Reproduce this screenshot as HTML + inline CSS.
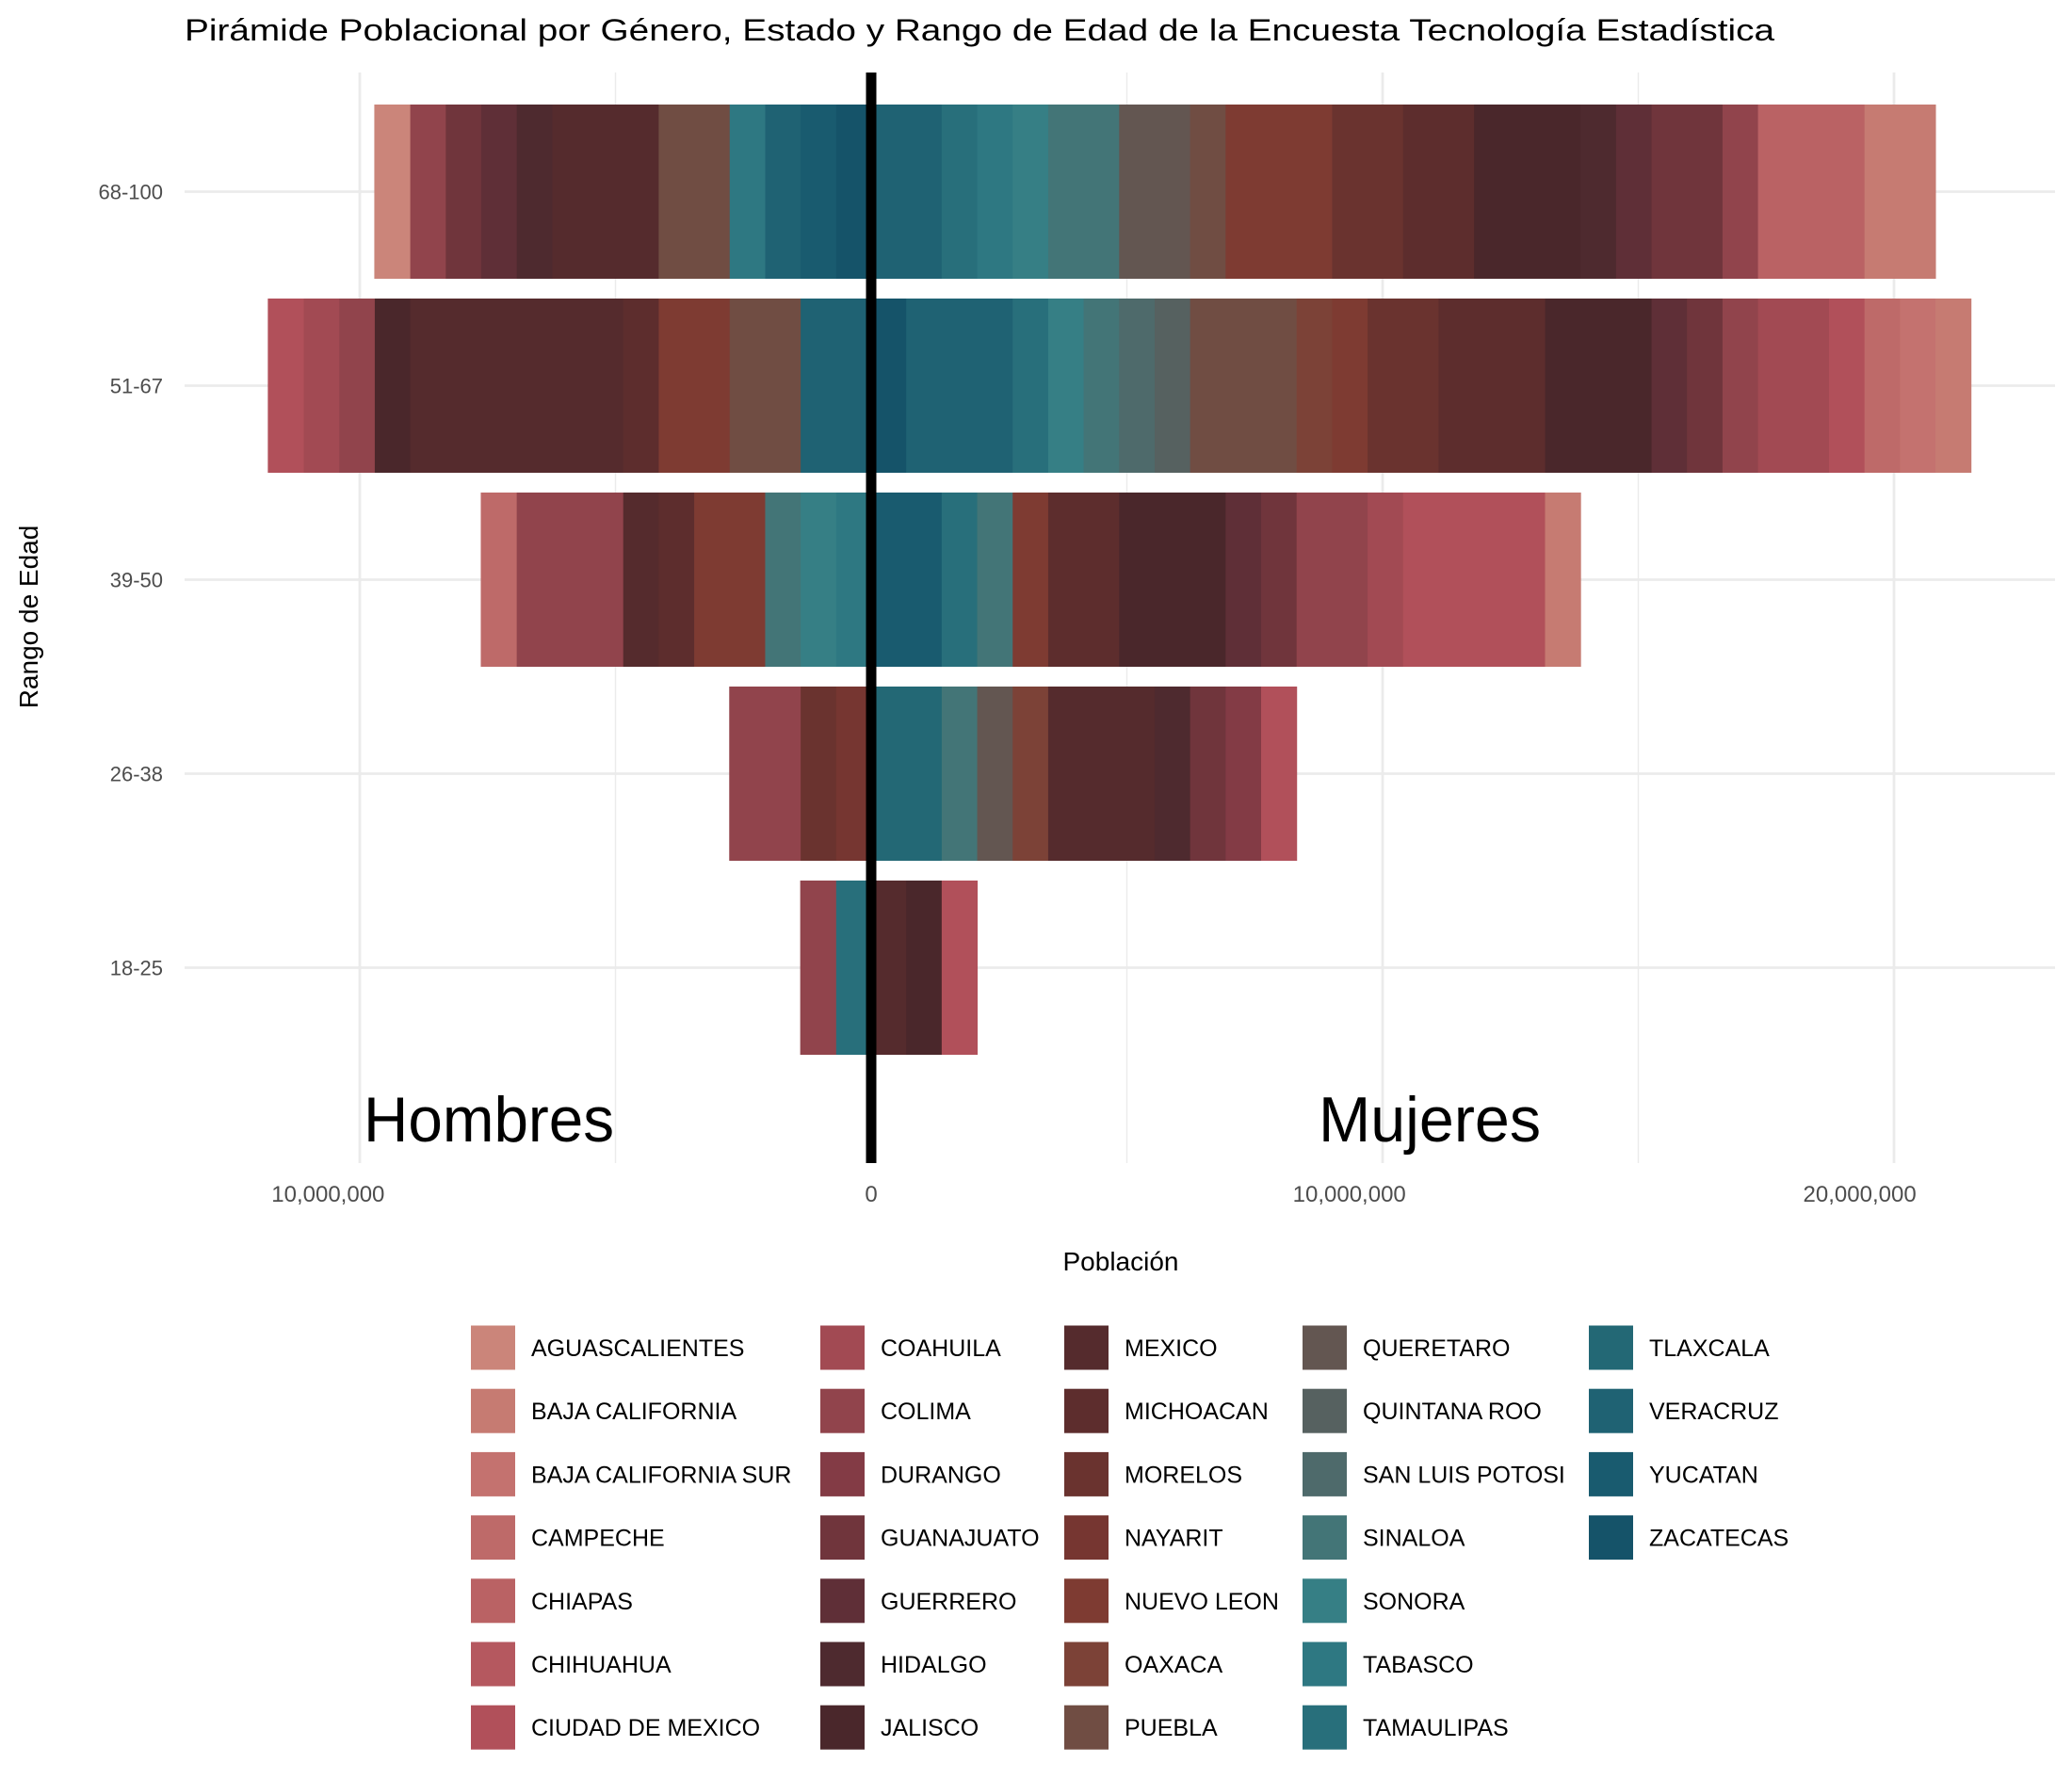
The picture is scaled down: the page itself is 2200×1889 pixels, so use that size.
<!DOCTYPE html>
<html><head><meta charset="utf-8"><style>
html,body{margin:0;padding:0;background:#fff;}
svg{display:block;font-family:"Liberation Sans",Arial,sans-serif;}
</style></head><body>
<svg id="chart" width="2200" height="1889" viewBox="0 0 2200 1889" xmlns="http://www.w3.org/2000/svg">
<rect x="0" y="0" width="2200" height="1889" fill="#fff"/>
<g id="grid"></g>
<g id="bars"></g>
<line x1="925" y1="77" x2="925" y2="1235" stroke="#000" stroke-width="11"/>
<g id="axes"></g>
<text x="196" y="43" font-size="32" fill="#000" textLength="1688" lengthAdjust="spacingAndGlyphs">Pirámide Poblacional por Género, Estado y Rango de Edad de la Encuesta Tecnología Estadística</text>
<text x="386" y="1212" font-size="68" fill="#000" textLength="266" lengthAdjust="spacingAndGlyphs">Hombres</text>
<text x="1400" y="1212" font-size="68" fill="#000" textLength="236" lengthAdjust="spacingAndGlyphs">Mujeres</text>
<text x="1190" y="1349" font-size="28" fill="#000" text-anchor="middle">Población</text>
<text transform="translate(40,655) rotate(-90)" font-size="28" fill="#000" text-anchor="middle">Rango de Edad</text>
<g id="legend"></g>
</svg>
<script>
const states = ["AGUASCALIENTES","BAJA CALIFORNIA","BAJA CALIFORNIA SUR","CAMPECHE","CHIAPAS","CHIHUAHUA","CIUDAD DE MEXICO","COAHUILA","COLIMA","DURANGO","GUANAJUATO","GUERRERO","HIDALGO","JALISCO","MEXICO","MICHOACAN","MORELOS","NAYARIT","NUEVO LEON","OAXACA","PUEBLA","QUERETARO","QUINTANA ROO","SAN LUIS POTOSI","SINALOA","SONORA","TABASCO","TAMAULIPAS","TLAXCALA","VERACRUZ","YUCATAN","ZACATECAS"];
const stateColors = ["#cb857a","#c67b72","#c4726f","#be6a69","#ba6264","#b5585f","#b1505a","#a24a53","#91444c","#833b45","#70353c","#5f2f37","#4e2a2f","#4a272b","#552b2d","#5d2d2d","#6a332f","#763631","#7e3b32","#7c4237","#704d43","#635651","#566160","#4e6a6b","#437577","#367f85","#2e7882","#286f7b","#236875","#1f6273","#195b6f","#155369"];
const ageGroups = ["18-25","26-38","39-50","51-67","68-100"];
const majorGrid = [-10000000, 0, 10000000, 20000000];
const minorGrid = [-5000000, 5000000, 15000000];
const xTicks = [-10620000, 0, 9350000, 19330000];
const xTickLabels = ["10,000,000","0","10,000,000","20,000,000"];
// values in thousands of people, index = state
const men18 = [0,0,0,0,0,0,0,0,694,0,0,0,0,0,0,0,0,0,0,0,0,0,0,0,0,0,0,694,0,0,0,0];
const men26 = [0,0,0,0,0,0,0,0,1388,0,0,0,0,0,0,0,694,694,0,0,0,0,0,0,0,0,0,0,0,0,0,0];
const men39 = [0,0,0,694,0,0,0,0,2082,0,0,0,0,0,694,694,0,0,1388,0,0,0,0,0,694,694,694,0,0,0,0,0];
const men51 = [0,0,0,0,0,0,694,694,694,0,0,0,0,694,4164,694,0,0,1388,0,1388,0,0,0,0,0,0,0,0,1388,0,0];
const men68 = [694,0,0,0,0,0,0,0,694,0,694,694,694,0,2082,0,0,0,0,0,1388,0,0,0,0,0,694,0,0,694,694,694];
const women18 = [0,0,0,0,0,0,694,0,0,0,0,0,0,694,694,0,0,0,0,0,0,0,0,0,0,0,0,0,0,0,0,0];
const women26 = [0,0,0,0,0,0,694,0,0,694,694,0,694,0,2082,0,0,0,0,694,0,694,0,0,694,0,0,0,1388,0,0,0];
const women39 = [0,694,0,0,0,0,2776,694,1388,0,694,694,0,2082,0,1388,0,0,694,0,0,0,0,0,694,0,0,694,0,0,1388,0];
const women51 = [0,694,694,694,0,0,694,1388,694,0,694,694,0,2082,0,2082,1388,0,694,694,2082,0,694,694,694,694,0,694,0,2082,0,694];
const women68 = [0,1388,0,0,2082,0,0,0,694,0,1388,694,694,2082,0,1388,1388,0,2082,0,694,1388,0,0,1388,694,694,694,0,1388,0,0];
const menByAge = [men18, men26, men39, men51, men68];
const womenByAge = [women18, women26, women39, women51, women68];

const NS = "http://www.w3.org/2000/svg";
const X0 = 925, PX_PER = 543 / 10000000;
const PANEL_L = 196, PANEL_R = 2182, PANEL_T = 77, PANEL_B = 1235;
function xScale(v) { return X0 + v * PX_PER; }
function yScale(i) { return 1027.5 - i * 206; }
const BAR_H = 185;
function mk(tag, attrs, parent) {
  const el = document.createElementNS(NS, tag);
  for (const k in attrs) el.setAttribute(k, attrs[k]);
  parent.appendChild(el);
  return el;
}
const grid = document.getElementById('grid');
minorGrid.forEach(v => {
  const ln = mk('line', {x1: xScale(v), x2: xScale(v), y1: PANEL_T, y2: PANEL_B, stroke: '#ebebeb', 'stroke-width': 1.4}, grid);
  
  
});
majorGrid.forEach(v => {
  const ln = mk('line', {x1: xScale(v), x2: xScale(v), y1: PANEL_T, y2: PANEL_B, stroke: '#ebebeb', 'stroke-width': 2.8}, grid);
  
  
});
ageGroups.forEach((g, i) => {
  const ln = mk('line', {x1: PANEL_L, x2: PANEL_R, y1: yScale(i), y2: yScale(i), stroke: '#ebebeb', 'stroke-width': 2.8}, grid);
  
  
});
const bars = document.getElementById('bars');
ageGroups.forEach((g, i) => {
  const yc = yScale(i);
  let cumM = 0, cumW = 0;
  for (let s = states.length - 1; s >= 0; s--) {
    const m = menByAge[i][s] * 1000;
    if (m > 0) {
      const x1 = xScale(-(cumM + m)), x2 = xScale(-cumM);
      const r = mk('rect', {x: x1, y: yc - BAR_H / 2, width: x2 - x1 + 0.5, height: BAR_H, fill: stateColors[s]}, bars);
      
      
      cumM += m;
    }
    const w = womenByAge[i][s] * 1000;
    if (w > 0) {
      const x1 = xScale(cumW), x2 = xScale(cumW + w);
      const r = mk('rect', {x: x1 - 0.5, y: yc - BAR_H / 2, width: x2 - x1 + 0.5, height: BAR_H, fill: stateColors[s]}, bars);
      
      
      cumW += w;
    }
  }
});
const axes = document.getElementById('axes');
xTicks.forEach((v, i) => {
  const t = mk('text', {x: xScale(v), y: 1276, 'font-size': 24, fill: '#4d4d4d', 'text-anchor': 'middle'}, axes);
  t.textContent = xTickLabels[i];
  
  
});
ageGroups.forEach((g, i) => {
  const t = mk('text', {x: 173, y: yScale(i) + 8, 'font-size': 22, fill: '#4d4d4d', 'text-anchor': 'end'}, axes);
  t.textContent = g;
  
  
});
const legend = document.getElementById('legend');
const colKeyX = [500, 871, 1130, 1383, 1687];
states.forEach((s, k) => {
  const col = Math.floor(k / 7), row = k % 7;
  const yc = 1431 + row * 67.2;
  const r = mk('rect', {x: colKeyX[col], y: yc - 23.5, width: 47, height: 47, fill: stateColors[k]}, legend);
  
  
  const t = mk('text', {x: colKeyX[col] + 64, y: yc + 9, 'font-size': 25, fill: '#000'}, legend);
  t.textContent = s;
  
  
});
</script>
</body></html>
